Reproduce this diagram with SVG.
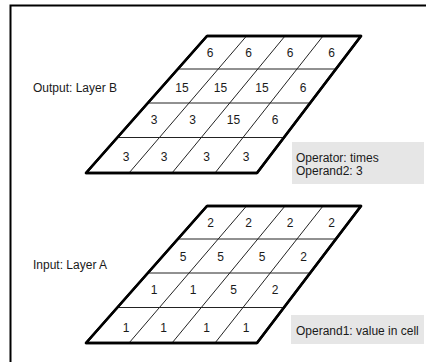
<svg xmlns="http://www.w3.org/2000/svg" width="426" height="362" viewBox="0 0 426 362">
<style>
text{font-family:"Liberation Sans",Arial,sans-serif;font-size:12px;fill:#1a1a1a}
.n{text-anchor:middle}
.outer{fill:#fff;stroke:#000;stroke-width:2.5;stroke-linejoin:round}
.inner{stroke:#222;stroke-width:1;fill:none}
.box{fill:#e6e6e6}
</style>
<defs>
<g id="grid">
<polygon class="outer" points="207,36 361,36 257,173 86,173"/>
<path class="inner" d="M178,69 H336 M149,103 H310 M117,137.5 H284 M246.5,36 L129,173 M285,36 L172,173 M323,36 L215,173"/>
<polygon points="207,36 361,36 257,173 86,173" fill="none" stroke="#000" stroke-width="2.5" stroke-linejoin="round"/>
</g>
</defs>
<path d="M10.5,362 V5.5 H426" fill="none" stroke="#000" stroke-width="2"/>
<g id="layerB">
<use href="#grid"/>
<text class="n" x="210" y="57">6</text><text class="n" x="248.5" y="57">6</text><text class="n" x="290" y="57">6</text><text class="n" x="331.5" y="57">6</text>
<text class="n" x="182" y="91.5">15</text><text class="n" x="220.5" y="91.5">15</text><text class="n" x="262" y="91.5">15</text><text class="n" x="303" y="91.5">6</text>
<text class="n" x="154" y="124">3</text><text class="n" x="192.5" y="124">3</text><text class="n" x="233.5" y="124">15</text><text class="n" x="275" y="124">6</text>
<text class="n" x="126" y="161">3</text><text class="n" x="164" y="161">3</text><text class="n" x="206.5" y="161">3</text><text class="n" x="246" y="161">3</text>
</g>
<g id="layerA" transform="translate(0,170)">
<use href="#grid"/>
<text class="n" x="210.5" y="57">2</text><text class="n" x="248.5" y="57">2</text><text class="n" x="290" y="57">2</text><text class="n" x="331.5" y="57">2</text>
<text class="n" x="183" y="90.5">5</text><text class="n" x="220.5" y="90.5">5</text><text class="n" x="262" y="90.5">5</text><text class="n" x="303.5" y="90.5">2</text>
<text class="n" x="154" y="123.5">1</text><text class="n" x="193" y="123.5">1</text><text class="n" x="233.5" y="123.5">5</text><text class="n" x="275" y="123.5">2</text>
<text class="n" x="126" y="162">1</text><text class="n" x="163.5" y="162">1</text><text class="n" x="206.5" y="162">1</text><text class="n" x="246" y="162">1</text>
</g>
<g id="labelB"><text x="33" y="92">Output: Layer B</text></g>
<g id="labelA"><text x="33" y="269">Input: Layer A</text></g>
<g id="operatorBox">
<rect class="box" x="292" y="142" width="132" height="42"/>
<text x="296" y="162">Operator: times</text>
<text x="296" y="175">Operand2: 3</text>
</g>
<g id="operand1Box">
<rect class="box" x="291" y="315" width="133" height="29"/>
<text x="296" y="335">Operand1: value in cell</text>
</g>
</svg>
